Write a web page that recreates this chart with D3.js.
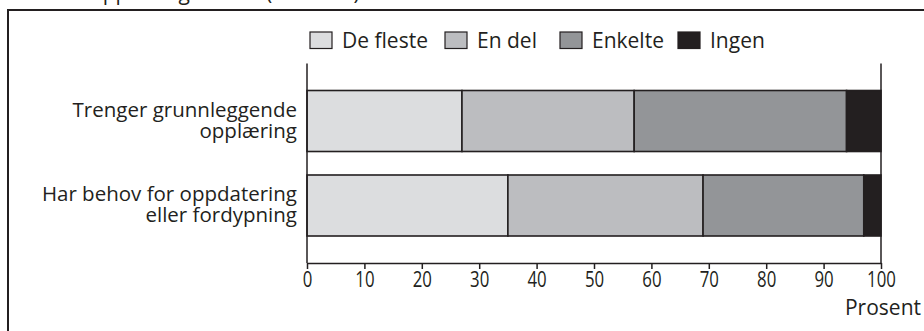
<!DOCTYPE html>
<html>
<head>
<meta charset="utf-8">
<script src="https://cdn.jsdelivr.net/npm/d3@7/dist/d3.min.js"></script>
<style>
  html, body { margin: 0; padding: 0; background: #fff; }
  svg { display: block; }
  text { font-family: "Open Sans", "Noto Sans", sans-serif; fill: #231f20; }
</style>
</head>
<body>
<svg id="chart" width="924" height="331"></svg>
<script>
// Answer categories (stack order, left to right)
const categories = ["De fleste", "En del", "Enkelte", "Ingen"];
// Row labels (multi-line)
const groups = [
  ["Trenger grunnleggende", "opplæring"],
  ["Har behov for oppdatering", "eller fordypning"]
];
// Percent per category, aligned with groups
const deFleste = [27, 35];
const enDel    = [30, 34];
const enkelte  = [37, 28];
const ingen    = [6, 3];
const seriesValues = [deFleste, enDel, enkelte, ingen];
const colors = ["#dcdddf", "#bcbdc0", "#939598", "#231f20"];
const xTicks = [0, 10, 20, 30, 40, 50, 60, 70, 80, 90, 100];
const axisTitle = "Prosent";
const headerText = "Ansattes opplæringsbehov (N=1 120). Prosent";

const svg = d3.select("#chart");
const ink = "#231f20";

// Frame (top and left edges)
svg.append("line").attr("x1", 8).attr("x2", 924).attr("y1", 10).attr("y2", 10)
  .attr("stroke", ink).attr("stroke-width", 2);
svg.append("line").attr("x1", 8).attr("x2", 8).attr("y1", 9).attr("y2", 331)
  .attr("stroke", ink).attr("stroke-width", 2);

// Header line, running off the top edge
svg.append("text").attr("x", 0).attr("y", 0).attr("font-size", 21).text(headerText);

const plotTop = 63.5, plotBottom = 263;
const x = d3.scaleLinear().domain([0, 100]).range([307, 881]);
const y = d3.scaleBand().domain(d3.range(groups.length))
  .range([plotTop, plotBottom]).paddingInner(0.278).paddingOuter(0.3195);

// Stacked rows
const rows = groups.map((g, i) => {
  const r = { idx: i };
  categories.forEach((c, k) => r[c] = seriesValues[k][i]);
  return r;
});
const stack = d3.stack().keys(categories)(rows);

const layers = svg.append("g").selectAll("g").data(stack).join("g")
  .attr("fill", (d, k) => colors[k]);
layers.selectAll("rect").data(d => d).join("rect")
  .attr("x", d => x(d[0]))
  .attr("width", d => x(d[1]) - x(d[0]))
  .attr("y", d => y(d.data.idx))
  .attr("height", y.bandwidth())
  .attr("stroke", ink).attr("stroke-width", 1.6);

// Left axis line and right plot edge
[0, 100].forEach(v => {
  svg.append("line").attr("x1", x(v)).attr("x2", x(v)).attr("y1", plotTop).attr("y2", plotBottom)
    .attr("stroke", ink).attr("stroke-width", 1.5);
});

// Bottom axis
const xAxis = d3.axisBottom(x).tickValues(xTicks).tickSize(6).tickSizeOuter(0).tickPadding(3);
const gx = svg.append("g").attr("transform", `translate(0,${plotBottom})`).call(xAxis);
gx.select(".domain").attr("stroke", ink).attr("stroke-width", 1.5);
gx.selectAll(".tick line").attr("stroke", ink).attr("stroke-width", 1.5);
gx.selectAll(".tick text").attr("font-size", 21).attr("fill", ink)
  .attr("font-family", "'Open Sans', 'Noto Sans', sans-serif")
  .attr("transform", "scale(0.8,1)");

svg.append("text").attr("x", 921).attr("y", 315).attr("text-anchor", "end")
  .attr("font-size", 21).text(axisTitle);

// Row labels
groups.forEach((lines, i) => {
  const cy = y(i) + y.bandwidth() / 2;
  const t = svg.append("text").attr("text-anchor", "end").attr("font-size", 20.5);
  lines.forEach((ln, j) => {
    t.append("tspan").attr("x", 297).attr("y", cy - 4 + j * 21).text(ln);
  });
});

// Legend
const legendX = [310, 445, 560, 678];
const lg = svg.append("g");
categories.forEach((c, k) => {
  lg.append("rect").attr("x", legendX[k]).attr("y", 32).attr("width", 22).attr("height", 16.5)
    .attr("fill", colors[k]).attr("stroke", ink).attr("stroke-width", 1.2);
  lg.append("text").attr("x", legendX[k] + 32).attr("y", 48.3).attr("font-size", 21).text(c);
});
</script>
</body>
</html>
